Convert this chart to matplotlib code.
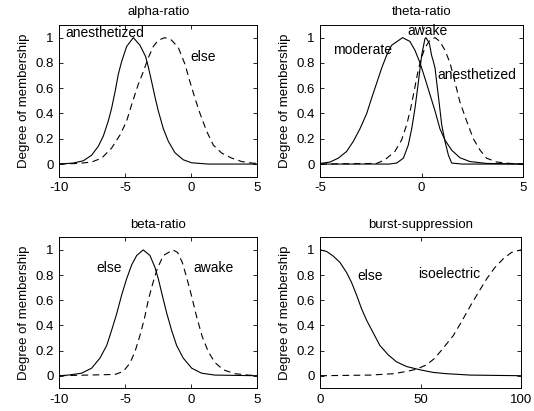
import matplotlib
matplotlib.use("Agg")
import matplotlib.pyplot as plt

plt.rcParams["font.family"] = ["Liberation Sans", "DejaVu Sans"]

# alpha-ratio
alpha_anesth_x = [-10, -8.94, -8.18, -7.55, -7.05, -6.67, -6.29, -6.04, -5.78, -5.53, -5.28, -4.9, -4.39,
                  -3.89, -3.46, -3.26, -3.0, -2.75, -2.5, -2.12, -1.74, -1.24, -0.61, 0.03, 1.29, 5]
alpha_anesth_y = [0.0, 0.008, 0.026, 0.07, 0.14, 0.22, 0.34, 0.44, 0.57, 0.71, 0.81, 0.93, 1.0,
                  0.94, 0.85, 0.77, 0.65, 0.53, 0.42, 0.28, 0.18, 0.09, 0.034, 0.01, 0.0, 0.0]
alpha_else_x = [-10, -8.56, -7.55, -6.79, -6.04, -5.4, -4.9, -4.52, -4.02, -3.64, -3.26, -2.88, -2.5, -2.0,
                -1.49, -0.98, -0.48, -0.1, 0.28, 0.66, 1.16, 1.67, 2.3, 3.06, 3.81, 4.57, 5]
alpha_else_y = [0.0, 0.005, 0.016, 0.047, 0.126, 0.23, 0.34, 0.47, 0.63, 0.73, 0.84, 0.93, 0.98, 1.0,
                0.98, 0.92, 0.79, 0.65, 0.52, 0.40, 0.26, 0.15, 0.087, 0.047, 0.02, 0.008, 0.005]

# theta-ratio
theta_mod_x = [-5, -4.52, -4.11, -3.7, -3.37, -3.04, -2.71, -2.47, -2.22, -1.97, -1.73, -1.48, -0.94,
               -0.58, -0.33, -0.08, 0.16, 0.41, 0.66, 0.9, 1.15, 1.48, 1.89, 2.38, 3.2, 5]
theta_mod_y = [0.005, 0.016, 0.047, 0.1, 0.18, 0.28, 0.40, 0.52, 0.64, 0.76, 0.86, 0.94, 1.0,
               0.97, 0.9, 0.8, 0.68, 0.55, 0.42, 0.28, 0.19, 0.11, 0.05, 0.02, 0.005, 0.0]
theta_awake_x = [-5, -1.6, -1.23, -0.9, -0.66, -0.49, -0.33, -0.16, 0.0, 0.16, 0.21, 0.38, 0.49, 0.58,
                 0.66, 0.77, 0.86, 0.99, 1.15, 1.32, 1.48, 2.0, 5]
theta_awake_y = [0.0, 0.0, 0.008, 0.047, 0.15, 0.28, 0.44, 0.65, 0.86, 0.99, 1.0, 0.955, 0.86, 0.81,
                 0.76, 0.61, 0.49, 0.31, 0.18, 0.07, 0.008, 0.0, 0.0]
theta_anesth_x = [-5, -2.22, -1.81, -1.32, -0.99, -0.74, -0.54, -0.38, -0.21, -0.05, 0.16, 0.41, 0.66,
                  0.9, 1.15, 1.4, 1.64, 1.89, 2.22, 2.55, 2.88, 3.2, 3.7, 4.36, 5]
theta_anesth_y = [0.0, 0.005, 0.034, 0.1, 0.19, 0.31, 0.44, 0.57, 0.71, 0.82, 0.92, 0.98, 1.0,
                  0.97, 0.9, 0.8, 0.65, 0.49, 0.34, 0.2, 0.11, 0.047, 0.016, 0.005, 0.0]

# beta-ratio
beta_else_x = [-10, -9.32, -8.31, -7.55, -6.92, -6.41, -6.04, -5.66, -5.28, -4.9, -4.52, -4.14, -3.64,
               -3.13, -2.75, -2.5, -2.2, -1.87, -1.49, -1.11, -0.61, 0.03, 0.78, 1.79, 5]
beta_else_y = [0.0, 0.005, 0.02, 0.06, 0.14, 0.24, 0.36, 0.49, 0.64, 0.77, 0.88, 0.955, 1.0,
               0.955, 0.86, 0.77, 0.64, 0.5, 0.36, 0.24, 0.14, 0.06, 0.02, 0.005, 0.0]
beta_awake_x = [-10, -5.78, -5.15, -4.65, -4.27, -3.89, -3.56, -3.26, -2.93, -2.58, -2.12, -1.4,
                -1.04, -0.68, -0.35, 0.03, 0.4, 0.83, 1.29, 1.79, 2.42, 3.31, 4.32, 5]
beta_awake_y = [0.0, 0.01, 0.034, 0.1, 0.19, 0.32, 0.45, 0.6, 0.73, 0.85, 0.955, 1.0,
                0.98, 0.9, 0.78, 0.63, 0.47, 0.31, 0.19, 0.105, 0.047, 0.016, 0.005, 0.0]

# burst-suppression
burst_else_x = [0, 3.2, 6.5, 9.8, 13.1, 15.6, 18.1, 20.6, 23.1, 26.4, 29.7, 33.9, 38.0, 43.0, 49.7,
                56.3, 63, 74.6, 100]
burst_else_y = [1.0, 0.987, 0.95, 0.9, 0.82, 0.74, 0.64, 0.53, 0.44, 0.34, 0.24, 0.165, 0.11, 0.073, 0.047,
                0.026, 0.016, 0.005, 0.0]
burst_iso_x = [0, 24.8, 36.4, 43, 48, 53, 57.1, 61.3, 66.3, 70.4, 74.6, 78.7, 82.9, 87, 91.2, 95.3, 100]
burst_iso_y = [0.0, 0.005, 0.016, 0.034, 0.052, 0.087, 0.14, 0.22, 0.32, 0.43, 0.55, 0.66, 0.77, 0.86,
               0.93, 0.98, 1.0]

W, H = 534, 411
fig = plt.figure(figsize=(W / 100, H / 100), dpi=100)


def make_ax(l, r, t, b):
    return fig.add_axes([l / W, 1 - b / H, (r - l) / W, (b - t) / H])


FS = 9.5
LFS = 10
LW = 0.8


def style(ax, title, xlim, xticks):
    ax.set_xlim(*xlim)
    ax.set_ylim(-0.1, 1.1)
    ax.set_xticks(xticks)
    ax.set_xticklabels([str(v) for v in xticks])
    ax.set_yticks([0, 0.2, 0.4, 0.6, 0.8, 1])
    ax.set_yticklabels(["0", "0.2", "0.4", "0.6", "0.8", "1"])
    ax.tick_params(direction="in", length=3, width=0.6, top=True, right=True,
                   labelsize=FS, pad=4)
    for s in ax.spines.values():
        s.set_linewidth(0.7)
    ax.set_title(title, fontsize=FS, pad=7)
    ax.set_ylabel("Degree of membership", fontsize=FS, labelpad=4)


dash = (0, (6, 4))

ax1 = make_ax(59.3, 257.3, 25, 176.7)
ax1.plot(alpha_anesth_x, alpha_anesth_y, color="black", lw=LW)
ax1.plot(alpha_else_x, alpha_else_y, color="black", lw=LW, linestyle=dash)
style(ax1, "alpha-ratio", (-10, 5), [-10, -5, 0, 5])
ax1.text(-9.52, 1.04, "anesthetized", fontsize=LFS, va="center")
ax1.text(-0.05, 0.85, "else", fontsize=LFS, va="center")

ax2 = make_ax(320.3, 523, 25, 176.7)
ax2.plot(theta_mod_x, theta_mod_y, color="black", lw=LW)
ax2.plot(theta_awake_x, theta_awake_y, color="black", lw=LW)
ax2.plot(theta_anesth_x, theta_anesth_y, color="black", lw=LW, linestyle=dash)
style(ax2, "theta-ratio", (-5, 5), [-5, 0, 5])
ax2.text(-0.71, 1.05, "awake", fontsize=LFS, va="center")
ax2.text(-4.39, 0.9, "moderate", fontsize=LFS, va="center")
ax2.text(0.77, 0.705, "anesthetized", fontsize=LFS, va="center")

ax3 = make_ax(59.3, 257.3, 237.3, 388.3)
ax3.plot(beta_else_x, beta_else_y, color="black", lw=LW)
ax3.plot(beta_awake_x, beta_awake_y, color="black", lw=LW, linestyle=dash)
style(ax3, "beta-ratio", (-10, 5), [-10, -5, 0, 5])
ax3.text(-7.17, 0.855, "else", fontsize=LFS, va="center")
ax3.text(0.15, 0.86, "awake", fontsize=LFS, va="center")

ax4 = make_ax(320.3, 521, 237.3, 388.3)
ax4.plot(burst_else_x, burst_else_y, color="black", lw=LW)
ax4.plot(burst_iso_x, burst_iso_y, color="black", lw=LW, linestyle=dash)
style(ax4, "burst-suppression", (0, 100), [0, 50, 100])
ax4.text(18.4, 0.79, "else", fontsize=LFS, va="center")
ax4.text(48.8, 0.81, "isoelectric", fontsize=LFS, va="center")

fig.savefig("out.png", dpi=100)
